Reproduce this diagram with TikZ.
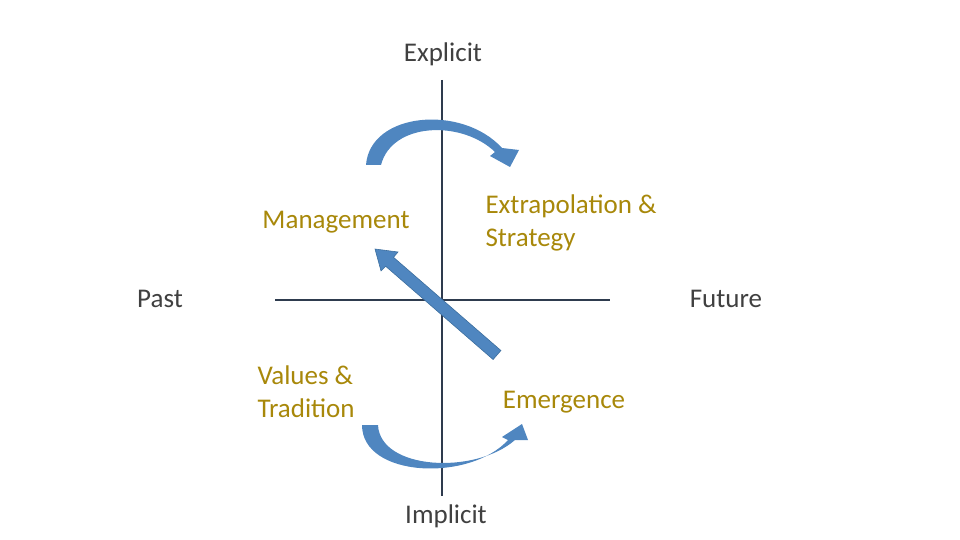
\documentclass[tikz,border=0pt]{standalone}
\usepackage{fontspec}
\setmainfont{Carlito}
\begin{document}
\begin{tikzpicture}[x=1pt,y=-1pt,
  lab/.style={text=black!75,font=\fontsize{27}{33}\selectfont},
  gold/.style={text=gold,font=\fontsize{27}{33}\selectfont,align=left},
  axis/.style={draw=axc,line width=2.2pt},
  arr/.style={fill=arrb,draw=arrd,line width=0.6pt}]
\definecolor{gold}{HTML}{A8880A}
\definecolor{axc}{HTML}{2E3B4E}
\definecolor{arrb}{HTML}{4F86C0}
\definecolor{arrd}{HTML}{3C6E9E}
\useasboundingbox (0,0) rectangle (960,540);
\coordinate (vt) at (442,80); \coordinate (vb) at (442,496);
\coordinate (hl) at (275,300); \coordinate (hr) at (610,300);
\draw[axis] (vt) -- (vb);
\draw[axis] (hl) -- (hr);
\node[lab] (ex) at (443,54) {Explicit};
\node[lab] (im) at (446,516) {Implicit};
\node[lab] (pa) at (160,299) {Past};
\node[lab] (fu) at (726,299) {Future};
\node[gold] (mg) at (336,222) {Management};
\node[gold,anchor=west] (es) at (482,223) {Extrapolation \&\\Strategy};
\node[gold,anchor=west] (vt2) at (254,392) {Values \&\\Tradition};
\node[gold] (em) at (564,402) {Emergence};
% top curved arrow
\fill[arrb] (366,165) .. controls (370,112) and (462,104) .. (502,148)
  -- (519,150) -- (510,167) -- (490,156) -- (495,152)
  .. controls (462,120) and (392,122) .. (381,165) -- cycle;
% bottom curved arrow
\fill[arrb] (362,425) .. controls (362,478) and (470,482) .. (508,440)
  -- (502,437) -- (522,424) -- (528,440) -- (515,440)
  .. controls (475,475) and (380,470) .. (378,425) -- cycle;
% diagonal arrow
\draw[arr] (500.9,350.5) -- (393.5,257.3) -- (398,252) -- (375,249)
  -- (381,270.9) -- (385.7,266.3) -- (493.1,359.5) -- cycle;
\end{tikzpicture}
\end{document}
